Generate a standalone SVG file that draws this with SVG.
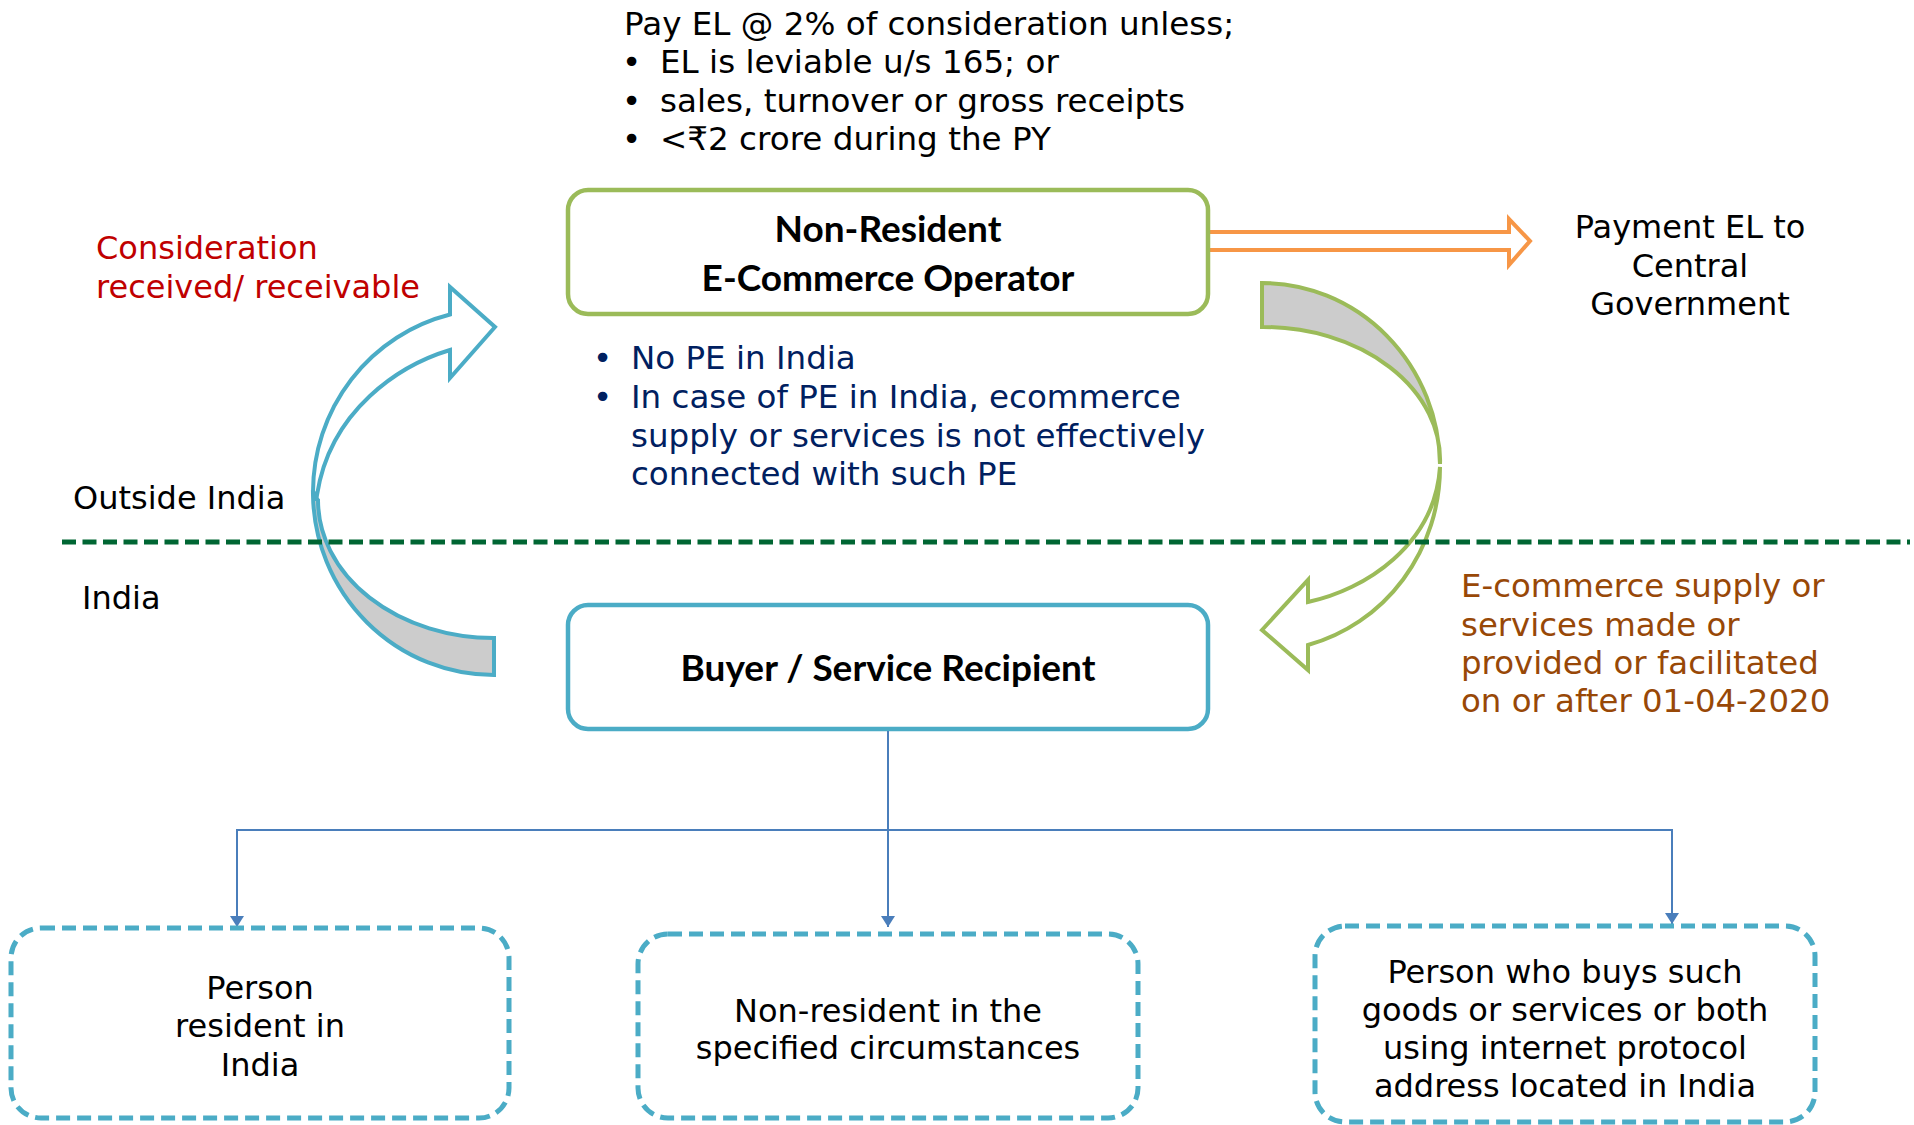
<svg xmlns="http://www.w3.org/2000/svg" width="1914" height="1125" viewBox="0 0 1914 1125">
<defs>
<style>
text{font-family:"DejaVu Sans",Verdana,sans-serif;font-size:32px;fill:#000}
.t{font-size:32.6px}
.b{font-family:Lato,"Liberation Sans",sans-serif;font-weight:700;font-size:37px;text-anchor:middle}
.c{text-anchor:middle}
.navy{fill:#002060;font-size:32.5px}
.red{fill:#C00000}
.brown{fill:#984807;font-size:32.4px}
.dbox{fill:#fff;stroke:#4BACC6;stroke-width:5;stroke-dasharray:14 7}
.conn{stroke:#4A7EBB;stroke-width:2;fill:none}
.blue{stroke:#4BACC6;stroke-width:4;stroke-linejoin:miter}
.green{stroke:#9BBB59;stroke-width:4;stroke-linejoin:miter}
</style>
<marker id="ah" markerUnits="userSpaceOnUse" markerWidth="12" markerHeight="14" refX="11" refY="7" orient="auto">
<path d="M0,0 L11,7 L0,14 Z" fill="#4A7EBB"/>
</marker>
</defs>
<rect width="1914" height="1125" fill="#fff"/>

<g id="note-top">
<text class="t" x="624" y="35">Pay EL @ 2% of consideration unless;</text>
<text class="t" x="622" y="73">•</text><text class="t" x="660" y="73">EL is leviable u/s 165; or</text>
<text class="t" x="622" y="112">•</text><text class="t" x="660" y="112">sales, turnover or gross receipts</text>
<text class="t" x="622" y="150">•</text><text class="t" x="660" y="150">&lt;₹2 crore during the PY</text>
</g>

<g id="flow-arrows">
<g id="arrow-consideration">
<path class="blue" fill="#CCCCCC" d="M313,495 A181,183 0 0 0 494,675 L494,638 A176,138 0 0 1 318,500 Z"/>
<path class="blue" fill="#fff" d="M313,492 A181,183 0 0 1 450,314.5 L450,287 L495,327 L450,378 L450,350 C400,365 330,410 317,495 Z"/>
</g>
<g id="arrow-supply">
<path class="green" fill="#CCCCCC" d="M1262,283 A178,184 0 0 1 1440,464 A177,133 0 0 0 1262,327 Z"/>
<path class="green" fill="#fff" d="M1440,467 A178,184 0 0 1 1308,645 L1308,670 L1262,630 L1308,580 L1308,602 C1365,590 1435,545 1440,467 Z"/>
</g>
<g id="arrow-payment">
<path fill="#fff" stroke="#F79646" stroke-width="4" d="M1208,232 H1509 V219 L1530,241 L1509,265 V250 H1208"/>
</g>
</g>

<line x1="62" y1="542" x2="1910" y2="542" stroke="#006633" stroke-width="5" stroke-dasharray="14 6.5"/>

<g id="label-consideration">
<text class="red" x="96" y="259">Consideration</text>
<text class="red" x="96" y="298">received/ receivable</text>
</g>
<g id="label-outside"><text x="73" y="509">Outside India</text></g>
<g id="label-india"><text x="82" y="609">India</text></g>

<g id="label-payment">
<text class="c" x="1690" y="238">Payment EL to</text>
<text class="c" x="1690" y="277">Central</text>
<text class="c" x="1690" y="315">Government</text>
</g>

<g id="label-supply">
<text class="brown" x="1461" y="597">E-commerce supply or</text>
<text class="brown" x="1461" y="636">services made or</text>
<text class="brown" x="1461" y="674">provided or facilitated</text>
<text class="brown" x="1461" y="712">on or after 01-04-2020</text>
</g>

<g id="note-pe">
<text class="navy" x="593" y="369">•</text><text class="navy" x="631" y="369">No PE in India</text>
<text class="navy" x="593" y="408">•</text><text class="navy" x="631" y="408">In case of PE in India, ecommerce</text>
<text class="navy" x="631" y="447">supply or services is not effectively</text>
<text class="navy" x="631" y="485">connected with such PE</text>
</g>

<g id="node-operator">
<rect x="568" y="190" width="640" height="124" rx="20" fill="#fff" stroke="#9BBB59" stroke-width="4.5"/>
<text class="b" x="888" y="242">Non-Resident</text>
<text class="b" x="888" y="291">E-Commerce Operator</text>
</g>

<g id="node-buyer">
<rect x="568" y="605" width="640" height="124" rx="20" fill="#fff" stroke="#4BACC6" stroke-width="4.5"/>
<text class="b" x="888" y="681">Buyer / Service Recipient</text>
</g>

<g id="connectors">
<line class="conn" x1="888" y1="731" x2="888" y2="927" marker-end="url(#ah)"/>
<line class="conn" x1="237" y1="830" x2="1672" y2="830"/>
<line class="conn" x1="237" y1="829" x2="237" y2="927" marker-end="url(#ah)"/>
<line class="conn" x1="1672" y1="829" x2="1672" y2="924" marker-end="url(#ah)"/>
</g>

<g id="node-resident">
<rect class="dbox" x="11" y="928" width="498" height="190" rx="30"/>
<text class="c" x="260" y="999">Person</text>
<text class="c" x="260" y="1037">resident in</text>
<text class="c" x="260" y="1076">India</text>
</g>

<g id="node-nonresident">
<rect class="dbox" x="638" y="934" width="500" height="184" rx="30"/>
<text class="c" x="888" y="1022">Non-resident in the</text>
<text class="c" x="888" y="1059">specified circumstances</text>
</g>

<g id="node-ip">
<rect class="dbox" x="1315" y="926" width="500" height="196" rx="30"/>
<text class="c" x="1565" y="983">Person who buys such</text>
<text class="c" x="1565" y="1021">goods or services or both</text>
<text class="c" x="1565" y="1059">using internet protocol</text>
<text class="c" x="1565" y="1097">address located in India</text>
</g>
</svg>
